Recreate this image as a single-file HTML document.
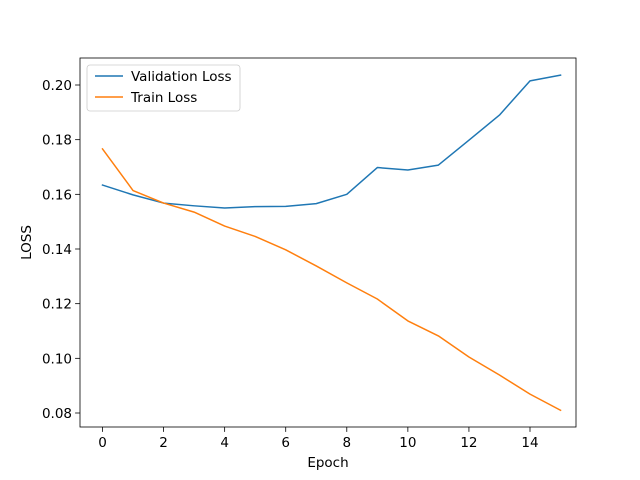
<!DOCTYPE html>
<html><head><meta charset="utf-8"><style>
body{margin:0;background:#fff;}
svg{display:block;font-family:"DejaVu Sans","Liberation Sans",sans-serif;}
</style></head><body>
<svg id="chart" width="640" height="480">
<rect x="0" y="0" width="640" height="480" fill="#fff"/>
<g id="plot"></g>
</svg>
<script>
const epochs = [0,1,2,3,4,5,6,7,8,9,10,11,12,13,14,15];
const valLoss = [0.1634,0.1598,0.1568,0.1558,0.1550,0.1555,0.1556,0.1566,0.1600,0.1698,0.1689,0.1707,0.1798,0.1890,0.2015,0.2036];
const trainLoss = [0.1766,0.1614,0.1568,0.1535,0.1484,0.1446,0.1397,0.1338,0.1276,0.1217,0.1137,0.1082,0.1005,0.0939,0.0869,0.0810];
const xTicks = [0,2,4,6,8,10,12,14];
const yTicks = [0.08,0.10,0.12,0.14,0.16,0.18,0.20];

const L=80,R=576,T=58,B=427;
const xS=v=>102.5+(v-0)*(530-102.5)/14;
const yS=v=>413-(v-0.08)*(413-85)/0.12;
const NS="http://www.w3.org/2000/svg";
const g=document.getElementById('plot');
function mk(tag,attrs,text){const e=document.createElementNS(NS,tag);for(const k in attrs)e.setAttribute(k,attrs[k]);if(text!==undefined)e.textContent=text;g.appendChild(e);return e;}
const FS=13.5;
xTicks.forEach(t=>{
  const x=xS(t);
  const tk=mk('line',{x1:x,x2:x,y1:B,y2:B+4.9,stroke:'#000','stroke-width':0.8});
  
  
  const lb=mk('text',{x:x,y:B+20,'font-size':FS,'text-anchor':'middle',fill:'#000'},String(t));
  
  
});
yTicks.forEach(t=>{
  const y=yS(t);
  const tk=mk('line',{x1:L-4.9,x2:L,y1:y,y2:y,stroke:'#000','stroke-width':0.8});
  
  
  const lb=mk('text',{x:L-8,y:y+5,'font-size':FS,'text-anchor':'end',fill:'#000'},t.toFixed(2));
  
  
});
function line(vals,color,name){
  const d=vals.map((v,i)=>(i?'L':'M')+xS(epochs[i]).toFixed(2)+','+yS(v).toFixed(2)).join('');
  const p=mk('path',{d:d,fill:'none',stroke:color,'stroke-width':1.5,'stroke-linejoin':'round','stroke-linecap':'square'});
  
  
}
line(valLoss,'#1f77b4','validation-loss-line');
line(trainLoss,'#ff7f0e','train-loss-line');

const fr=mk('rect',{x:L,y:T,width:R-L,height:B-T,fill:'none',stroke:'#000','stroke-width':0.8});


const xt=mk('text',{x:(L+R)/2,y:467,'font-size':FS,'text-anchor':'middle'},'Epoch');


const yt=mk('text',{x:31,y:(T+B)/2,'font-size':FS,'text-anchor':'middle',transform:'rotate(-90 31 '+((T+B)/2)+')'},'LOSS');



const lg=mk('rect',{x:87,y:65,width:153,height:46,rx:3,fill:'#fff','fill-opacity':0.8,stroke:'#ccc','stroke-width':0.8});


[['Validation Loss','#1f77b4',76],['Train Loss','#ff7f0e',97]].forEach(([n,c,y])=>{
  const l=mk('line',{x1:95,x2:123,y1:y,y2:y,stroke:c,'stroke-width':1.5});
  
  
  const t=mk('text',{x:131,y:y+5,'font-size':FS},n);
  
  
});
</script>
</body></html>
